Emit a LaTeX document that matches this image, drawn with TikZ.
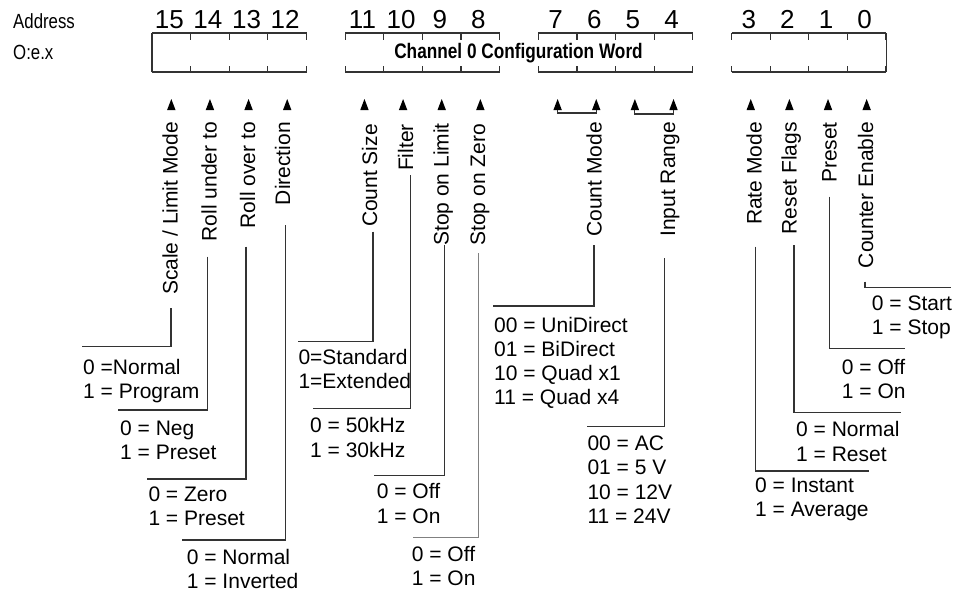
\documentclass[tikz,border=0pt]{standalone}
\usepackage{fontspec}
\setmainfont{Liberation Sans}
\newfontfamily\narrowfont[FakeStretch=0.82]{Liberation Sans}
\tikzset{
  uparrow/.pic={\fill[black] (0,0) -- (-4.2,11) -- (4.2,11) -- cycle;},
  lbl/.style={font=\fontsize{21}{24.3}\selectfont, inner sep=0pt, text=black},
  vals/.style={lbl, align=left, anchor=north west},
  rot/.style={lbl, rotate=90, anchor=base east},
  leader/.style={draw=black!80, line width=1.1pt},
  frame/.style={draw=black!80, line width=1.2pt},
  bitnum/.style={font=\fontsize{26}{26}\selectfont, inner sep=0pt, anchor=base, text=black},
  hdr/.style={font=\narrowfont\fontsize{20.5}{20.5}\selectfont, inner sep=0pt, anchor=base west, text=black}
}
\begin{document}
\begin{tikzpicture}[x=1pt,y=-1pt]
\useasboundingbox (0,0) rectangle (964,592);
\fill[white] (0,0) rectangle (964,592);

% header
\node[hdr] (addr) at (13,28) {Address};
\node[hdr] (oex) at (13,59) {O:e.x};

% register frame
\foreach \L in {152,345.2,538.3,731.5} {
  \draw[frame] (\L,33) -- ++(154.5,0);
  \draw[frame] (\L,72) -- ++(154.5,0);
  \foreach \i in {0,...,4} {
    \draw[frame] (\L+\i*38.63,33) -- ++(0,7);
    \draw[frame] (\L+\i*38.63,72) -- ++(0,-6);
  }
}
\draw[frame] (152,33) -- (152,72);
\draw[frame] (886.1,33) -- (886.1,72);

\node[font=\narrowfont\bfseries\fontsize{21}{21}\selectfont, inner sep=0pt, anchor=base, text=black] (title) at (518.5,58) {Channel 0 Configuration Word};

% bit numbers
\foreach \k/\n in {0/15,1/14,2/13,3/12,5/11,6/10,7/9,8/8,10/7,11/6,12/5,13/4,15/3,16/2,17/1,18/0} {
  \node[bitnum] (b\n) at ({152+(\k+0.5)*38.63-2},28) {\n};
  \pic at ({152+(\k+0.5)*38.63},99) {uparrow};
}

% brackets for two-bit fields
\draw[leader] (557.6,110) -- (557.6,113) -- (596.3,113) -- (596.3,110);
\draw[leader] (634.9,110) -- (634.9,114) -- (673.5,114) -- (673.5,110);

% rotated labels
\node[rot] (l15) at (177.5,122) {Scale / Limit Mode};
\node[rot] (l14) at (216.5,122) {Roll under to};
\node[rot] (l13) at (255,122) {Roll over to};
\node[rot] (l12) at (290,122) {Direction};
\node[rot] (l11) at (377,124) {Count Size};
\node[rot] (l10) at (413,124) {Filter};
\node[rot] (l9) at (448.5,123) {Stop on Limit};
\node[rot] (l8) at (485,124) {Stop on Zero};
\node[rot] (lcm) at (601.5,122) {Count Mode};
\node[rot] (lir) at (675,122) {Input Range};
\node[rot] (l3) at (761.5,122) {Rate Mode};
\node[rot] (l2) at (796.7,122) {Reset Flags};
\node[rot] (l1) at (836.5,122) {Preset};
\node[rot] (l0) at (873,122) {Counter Enable};

% value texts
\node[vals] (v15) at (83,359) {0 =Normal\\1 = Program};
\node[vals] (v14) at (120,420.6) {0 = Neg\\1 = Preset};
\node[vals] (v13) at (148.3,486.6) {0 = Zero\\1 = Preset};
\node[vals] (v12) at (186.7,549) {0 = Normal\\1 = Inverted};
\node[vals] (v11) at (298.3,349) {0=Standard\\1=Extended};
\node[vals] (v10) at (310,417.3) {0 = 50kHz\\1 = 30kHz};
\node[vals] (v9) at (376.7,483.3) {0 = Off\\1 = On};
\node[vals] (v8) at (411.7,545.6) {0 = Off\\1 = On};
\node[vals] (vcm) at (494,316.6) {00 = UniDirect\\01 = BiDirect\\10 = Quad x1\\11 = Quad x4};
\node[vals] (vir) at (587.3,435.6) {00 = AC\\01 = 5 V\\10 = 12V\\11 = 24V};
\node[vals] (v3) at (755,477.3) {0 = Instant\\1 = Average};
\node[vals] (v2) at (796,421.3) {0 = Normal\\1 = Reset};
\node[vals] (v1) at (841.7,359) {0 = Off\\1 = On};
\node[vals] (v0) at (871.7,295.6) {0 = Start\\1 = Stop};

% leader lines
\coordinate (s15) at (171,308);   \coordinate (e15) at (81.7,346.7);
\coordinate (s14) at (207.5,256.7); \coordinate (e14) at (118,410);
\coordinate (s13) at (246,246.7); \coordinate (e13) at (147.3,479);
\coordinate (s12) at (285.3,225); \coordinate (e12) at (181.7,540);
\coordinate (s11) at (373,231.7); \coordinate (e11) at (298.3,341.7);
\coordinate (s10) at (410.3,175); \coordinate (e10) at (313.3,408.3);
\coordinate (s9) at (444.7,245);  \coordinate (e9) at (374.3,475.7);
\coordinate (s8) at (478.5,253.3); \coordinate (e8) at (413.3,537.7);
\coordinate (scm) at (594,245);   \coordinate (ecm) at (492.7,306);
\coordinate (sir) at (664.7,258.3); \coordinate (eir) at (586.7,426.7);
\coordinate (s3) at (755.7,246.7); \coordinate (e3) at (869,471);
\coordinate (s2) at (794,245);    \coordinate (e2) at (900.7,412.3);
\coordinate (s1) at (829.3,196.7); \coordinate (e1) at (905,348.3);
\coordinate (s0) at (865,281.7);  \coordinate (e0) at (951,287.3);

\foreach \b in {15,14,13,12,11,10,9,cm,ir,3,2,1,0} {
  \draw[leader] (s\b) |- (e\b);
}
\draw[leader, draw=black!50] (s8) |- (e8);
\end{tikzpicture}
\end{document}
